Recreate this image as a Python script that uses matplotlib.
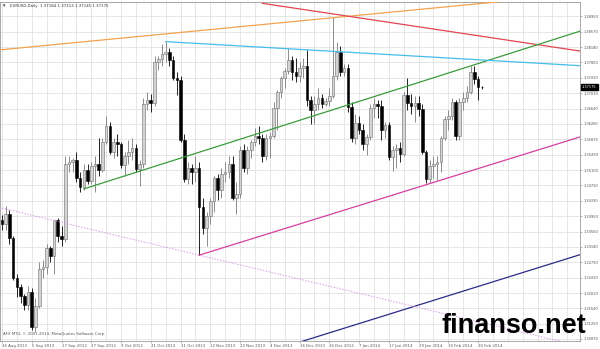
import numpy as np
import matplotlib.pyplot as plt

# daily EURUSD bars, index 0 = 26 Aug 2013
opens = [1.3385, 1.3375, 1.3400, 1.3340, 1.3240, 1.3218, 1.3195, 1.3172, 1.3205, 1.3117,
         1.3170, 1.3262, 1.3268, 1.3315, 1.3295, 1.3385, 1.3345, 1.3338, 1.3525, 1.3530,
         1.3535, 1.3490, 1.3468, 1.3510, 1.3482, 1.3520, 1.3525, 1.3510, 1.3580, 1.3620,
         1.3555, 1.3580, 1.3575, 1.3522, 1.3545, 1.3555, 1.3565, 1.3512, 1.3525, 1.3675,
         1.3685, 1.3678, 1.3780, 1.3788, 1.3800, 1.3805, 1.3785, 1.3742, 1.3735, 1.3585,
         1.3488, 1.3515, 1.3505, 1.3515, 1.3418, 1.3365, 1.3395, 1.3432, 1.3490, 1.3460,
         1.3500, 1.3505, 1.3525, 1.3440, 1.3450, 1.3560, 1.3515, 1.3560, 1.3580, 1.3595,
         1.3590, 1.3545, 1.3590, 1.3595, 1.3665, 1.3705, 1.3740, 1.3758, 1.3785, 1.3755,
         1.3745, 1.3765, 1.3772, 1.3685, 1.3660, 1.3675, 1.3690, 1.3675, 1.3682, 1.3695,
         1.3745, 1.3805, 1.3755, 1.3765, 1.3668, 1.3590, 1.3628, 1.3610, 1.3575, 1.3592,
         1.3665, 1.3675, 1.3670, 1.3610, 1.3622, 1.3543, 1.3560, 1.3565, 1.3550, 1.3698,
         1.3678, 1.3670, 1.3678, 1.3662, 1.3555, 1.3487, 1.3520, 1.3525, 1.3530, 1.3590,
         1.3638, 1.3645, 1.3680, 1.3595, 1.3680, 1.3692, 1.3705, 1.3756, 1.3738, 1.37184]
highs = [1.3398, 1.3420, 1.3410, 1.3345, 1.3250, 1.3225, 1.3200, 1.3220, 1.3215, 1.3190,
         1.3280, 1.3285, 1.3325, 1.3320, 1.3325, 1.3390, 1.3370, 1.3545, 1.3545, 1.3540,
         1.3555, 1.3505, 1.3525, 1.3525, 1.3530, 1.3545, 1.3590, 1.3590, 1.3645, 1.3630,
         1.3590, 1.3600, 1.3580, 1.3555, 1.3585, 1.3590, 1.3575, 1.3535, 1.3690, 1.3705,
         1.3700, 1.3795, 1.3795, 1.3825, 1.3832, 1.3815, 1.3795, 1.3755, 1.3745, 1.3600,
         1.3530, 1.3525, 1.3545, 1.3530, 1.3440, 1.3405, 1.3440, 1.3495, 1.3500, 1.3515,
         1.3530, 1.3545, 1.3545, 1.3480, 1.3570, 1.3575, 1.3570, 1.3585, 1.3615, 1.3620,
         1.3600, 1.3600, 1.3605, 1.3680, 1.3710, 1.3745, 1.3765, 1.3815, 1.3795, 1.3790,
         1.3780, 1.3790, 1.3810, 1.3695, 1.3695, 1.3715, 1.3700, 1.3690, 1.3715, 1.3894,
         1.3830, 1.3820, 1.3775, 1.3775, 1.3680, 1.3650, 1.3645, 1.3625, 1.3600, 1.3675,
         1.3690, 1.3685, 1.3685, 1.3630, 1.3630, 1.3570, 1.3575, 1.3580, 1.3705, 1.3740,
         1.3700, 1.3695, 1.3695, 1.3675, 1.3560, 1.3535, 1.3545, 1.3545, 1.3595, 1.3645,
         1.3660, 1.3690, 1.3685, 1.3690, 1.3705, 1.3720, 1.3772, 1.3772, 1.3745, 1.37213]
lows = [1.3360, 1.3360, 1.3325, 1.3235, 1.3192, 1.3178, 1.3160, 1.3160, 1.3110, 1.3105,
        1.3165, 1.3240, 1.3250, 1.3280, 1.3250, 1.3330, 1.3320, 1.3330, 1.3505, 1.3505,
        1.3480, 1.3455, 1.3460, 1.3475, 1.3475, 1.3455, 1.3495, 1.3505, 1.3575, 1.3550,
        1.3540, 1.3545, 1.3515, 1.3495, 1.3525, 1.3535, 1.3505, 1.3470, 1.3515, 1.3660,
        1.3655, 1.3670, 1.3760, 1.3770, 1.3780, 1.3770, 1.3735, 1.3698, 1.3580, 1.3480,
        1.3475, 1.3475, 1.3480, 1.3297, 1.3350, 1.3320, 1.3375, 1.3405, 1.3435, 1.3440,
        1.3480, 1.3490, 1.3435, 1.3400, 1.3440, 1.3505, 1.3500, 1.3540, 1.3570, 1.3575,
        1.3530, 1.3535, 1.3540, 1.3590, 1.3610, 1.3690, 1.3715, 1.3750, 1.3735, 1.3730,
        1.3730, 1.3740, 1.3670, 1.3625, 1.3625, 1.3660, 1.3665, 1.3670, 1.3670, 1.3690,
        1.3735, 1.3745, 1.3745, 1.3655, 1.3580, 1.3575, 1.3600, 1.3560, 1.3548, 1.3585,
        1.3640, 1.3640, 1.3585, 1.3590, 1.3535, 1.3508, 1.3515, 1.3530, 1.3545, 1.3660,
        1.3650, 1.3630, 1.3645, 1.3550, 1.3478, 1.3478, 1.3490, 1.3485, 1.3505, 1.3585,
        1.3610, 1.3635, 1.3585, 1.3585, 1.3660, 1.3680, 1.3700, 1.3725, 1.3686, 1.37145]
closes = opens[1:] + [1.37175]

# trend lines drawn on the chart: (bar, price) anchors, extended to the right
orange_line = [(-1, 1.3811), (137, 1.3935)]
red_line = [(70, 1.3928), (155, 1.3809)]
green_line = [(22, 1.3463), (155, 1.3857)]
cyan_line = [(44, 1.3832), (155, 1.3772)]
magenta_line = [(53, 1.3297), (155, 1.3592)]
navy_line = [(70, 1.3050), (155, 1.3297)]
dotted_line = [(-1, 1.3417), (53, 1.3297)]

price_ticks = [1.38950, 1.38570, 1.38180, 1.37800, 1.37410, 1.37030, 1.36640, 1.36260,
               1.35870, 1.35490, 1.35100, 1.34720, 1.34330, 1.33950, 1.33560, 1.33180,
               1.32790, 1.32410, 1.32020, 1.31640, 1.31250, 1.30870]
date_labels = ['26 Aug 2013', '5 Sep 2013', '17 Sep 2013', '27 Sep 2013', '9 Oct 2013',
               '21 Oct 2013', '31 Oct 2013', '12 Nov 2013', '22 Nov 2013', '4 Dec 2013',
               '16 Dec 2013', '26 Dec 2013', '7 Jan 2014', '17 Jan 2014', '29 Jan 2014',
               '10 Feb 2014', '20 Feb 2014']
date_bars = list(range(0, 8 * len(date_labels), 8))
last_price = closes[-1]

fig = plt.figure(figsize=(6, 3.49), dpi=100)
ax = fig.add_axes([0, 8 / 349, 580 / 600, 339 / 349])
x0, x1 = -0.54, 155.4
ax.set_xlim(x0, x1)
ax.set_ylim(1.30819, 1.39313)

# grid
for p in price_ticks:
    ax.axhline(p, color='#e2e2e2', lw=0.6, zorder=0)
for b in np.arange(0, 157, 4):
    ax.axvline(b, color='#e2e2e2', lw=0.6, zorder=0)

# candles
o = np.array(opens); h = np.array(highs); l = np.array(lows); c = np.array(closes)
idx = np.arange(len(o))
up = c >= o
ax.vlines(idx[up], l[up], h[up], color='#7a7a7a', lw=0.6, zorder=2)
ax.vlines(idx[~up], l[~up], h[~up], color='#000000', lw=0.6, zorder=2)
body_lo = np.minimum(o, c)
body_h = np.maximum(np.abs(c - o), 0.00006)
ax.bar(idx[up], body_h[up], bottom=body_lo[up], width=0.7, color='#d4d4d4',
       edgecolor='#6e6e6e', linewidth=0.4, zorder=3)
ax.bar(idx[~up], body_h[~up], bottom=body_lo[~up], width=0.7, color='#000000',
       edgecolor='#000000', linewidth=0.4, zorder=3)


def ray(line, color, ls='-', lw=0.9, start=None):
    (a, pa), (b, pb) = line
    k = (pb - pa) / (b - a)
    xs = np.array([a if start is None else start, x1 + 2])
    ax.plot(xs, pa + k * (xs - a), color=color, ls=ls, lw=lw, zorder=4)


ray(orange_line, '#f4a24e', start=x0 - 2)
ray(red_line, '#e2464f')
ray(green_line, '#3c9a3c')
ray(cyan_line, '#45bde9')
ray(magenta_line, '#d63f9e')
ray(navy_line, '#2b2b88', start=x0 - 2)
ray(dotted_line, '#d79ae6', ls=(0, (1.5, 1.5)), lw=0.7, start=x0 - 2)

# axes styling
for s in ax.spines.values():
    s.set_color('#9a9a9a')
    s.set_linewidth(0.6)
ax.yaxis.tick_right()
ax.set_yticks(price_ticks)
ax.set_yticklabels(['%.5f' % p for p in price_ticks])
ax.set_xticks(date_bars)
ax.set_xticklabels(date_labels, ha='left')
ax.tick_params(axis='y', length=1.5, width=0.5, color='#9a9a9a', pad=1.2,
               labelsize=2.6, labelcolor='#555555')
ax.tick_params(axis='x', length=1.5, width=0.5, color='#9a9a9a', pad=0.5,
               labelsize=2.8, labelcolor='#555555')

# current price box
ax.annotate('%.5f' % last_price, xy=(1, last_price), xycoords=('axes fraction', 'data'),
            xytext=(1.2, 0), textcoords='offset points', va='center', ha='left',
            fontsize=2.6, color='white',
            bbox=dict(boxstyle='square,pad=0.3', fc='black', ec='black'),
            annotation_clip=False)

fig.text(10 / 600, 1 - 6 / 349, 'EURUSD,Daily  %.5f %.5f %.5f %.5f' % (opens[-1], highs[-1], lows[-1], closes[-1]),
         fontsize=2.8, color='#333333', va='center')
fig.text(3 / 600, 1 - 6 / 349, '\u25be', fontsize=3.5, color='#333333', va='center')
fig.text(3 / 600, 1 - 334 / 349, 'AFX MT4, \u00a9 2001-2014, MetaQuotes Software Corp.',
         fontsize=2.8, color='#555555', va='center')
fig.text(441 / 600, 1 - 333 / 349, 'finanso.net', fontsize=19.5, fontweight='bold',
         family='Liberation Sans', color='black', va='baseline')

fig.savefig('out.png', dpi=100, facecolor='white')
